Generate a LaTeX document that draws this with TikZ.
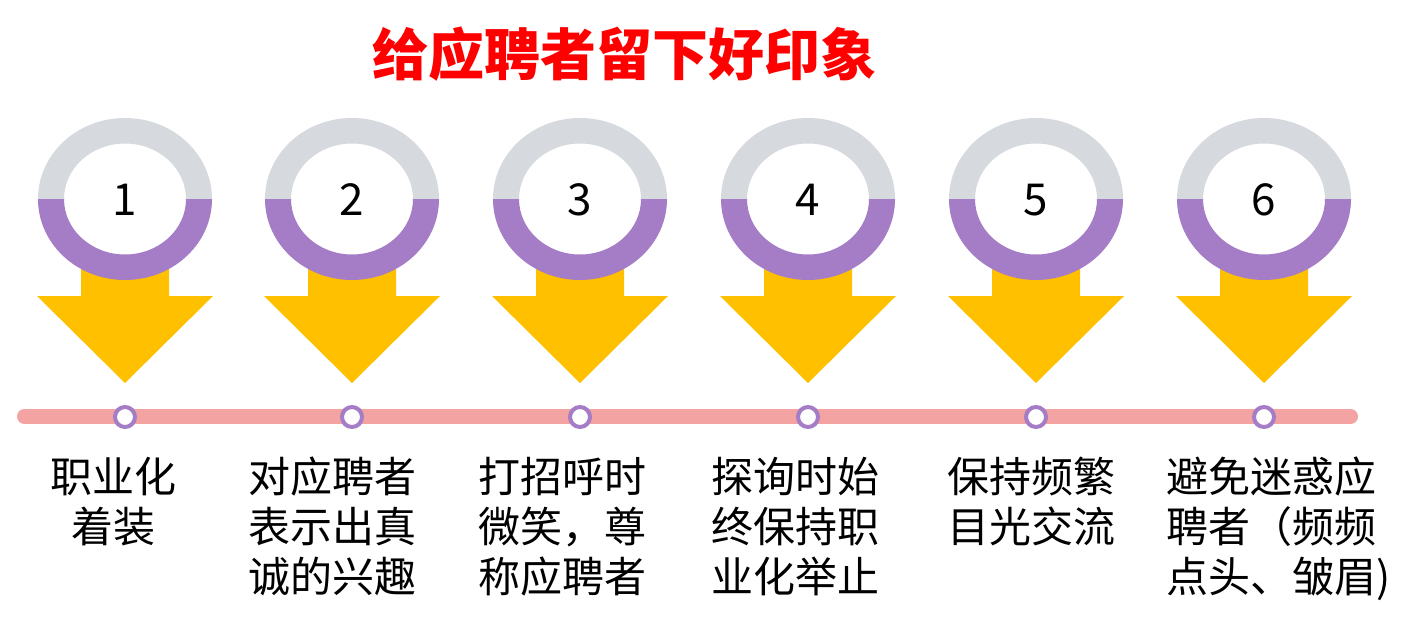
\documentclass[tikz,border=0pt]{standalone}
\usepackage{fontspec}
\setmainfont{Noto Sans CJK SC}
\usetikzlibrary{shapes.geometric}
\definecolor{ringgrey}{HTML}{D6D9DE}
\definecolor{ringpurple}{HTML}{A47DC6}
\definecolor{arrowgold}{HTML}{FFC000}
\definecolor{linesalmon}{HTML}{F4A3A3}
\definecolor{titlered}{HTML}{FF0000}
\begin{document}
\begin{tikzpicture}[x=1pt,y=-1pt,
  titletext/.style={font=\fontsize{56}{60}\selectfont\bfseries, text=titlered, inner sep=0pt, anchor=base},
  numtext/.style={font=\fontsize{44}{50}\selectfont, inner sep=0pt, anchor=base},
  steptext/.style={font=\fontsize{42}{50}\selectfont, inner sep=0pt, anchor=north, align=center},
  dotnode/.style={circle, draw=ringpurple, line width=4pt, fill=white, minimum size=20pt, inner sep=0pt},
  arrowshape/.style={fill=arrowgold},
]
\useasboundingbox[fill=white] (0,0) rectangle (1402,624);
\node[titletext] (title) at (624,75) {给应聘者留下好印象};

% timeline
\coordinate (tlstart) at (24.5,416.5);
\coordinate (tlend) at (1350.5,416.5);
\draw[linesalmon, line width=15pt, line cap=round] (tlstart) -- (tlend);

\foreach \i/\x in {1/125,2/352,3/580,4/808,5/1036,6/1264}{
  % arrow
  \fill[arrowshape] (\x-44,262) -- (\x+44,262) -- (\x+44,296) -- (\x+88,296)
     -- (\x,383) -- (\x-88,296) -- (\x-44,296) -- cycle;
  % ring upper half
  \begin{scope}
    \clip (\x-100,100) rectangle (\x+100,199);
    \fill[ringgrey, even odd rule] (\x,199) ellipse [x radius=87pt, y radius=81pt]
         (\x,199) ellipse [x radius=61pt, y radius=55.5pt];
  \end{scope}
  % ring lower half
  \begin{scope}
    \clip (\x-100,199) rectangle (\x+100,300);
    \fill[ringpurple, even odd rule] (\x,199) ellipse [x radius=87pt, y radius=81pt]
         (\x,199) ellipse [x radius=61pt, y radius=55.5pt];
  \end{scope}
  \node[numtext] (num\i) at (\x,215) {\i};
  \node[dotnode] (dot\i) at (\x,417) {};
}

\node[steptext] (t1) at (113,457) {职业化\\着装};
\node[steptext] (t2) at (332.5,457) {对应聘者\\表示出真\\诚的兴趣};
\node[steptext] (t3) at (562.5,457) {打招呼时\\微笑，尊\\称应聘者};
\node[steptext] (t4) at (795,457) {探询时始\\终保持职\\业化举止};
\node[steptext] (t5) at (1031.5,457) {保持频繁\\目光交流};
\node[steptext, anchor=north west, align=left] (t6) at (1166,457) {避免迷惑应\\聘者（频频\\点头、皱眉)};
\end{tikzpicture}
\end{document}
